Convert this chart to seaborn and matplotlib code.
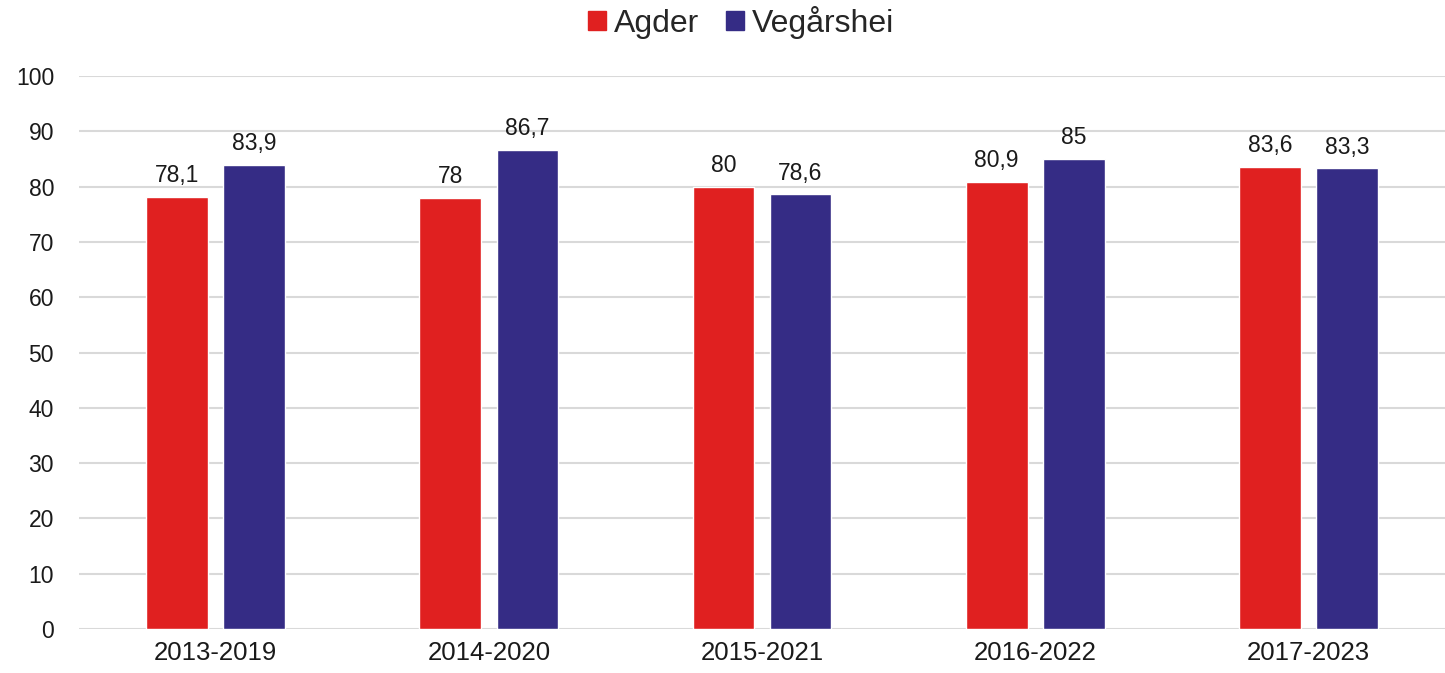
import matplotlib
matplotlib.use("Agg")
import matplotlib.pyplot as plt
import seaborn as sns
import pandas as pd

periods = ["2013-2019", "2014-2020", "2015-2021", "2016-2022", "2017-2023"]
agder = [78.1, 78.0, 80.0, 80.9, 83.6]
vegarshei = [83.9, 86.7, 78.6, 85.0, 83.3]
series = ["Agder", "Vegårshei"]

df = pd.DataFrame({
    "period": periods * 2,
    "area": [series[0]] * len(periods) + [series[1]] * len(periods),
    "value": agder + vegarshei,
})

sns.set_style("white")
plt.rcParams["font.family"] = ["Liberation Sans", "DejaVu Sans"]

fig = plt.figure(figsize=(14.45, 6.73), dpi=100)
ax = fig.add_axes([0.0547, 0.0654, 0.9453, 0.8216])

sns.barplot(data=df, x="period", y="value", hue="area", order=periods,
            hue_order=series, palette=["#E02020", "#352C85"],
            width=0.564, gap=0.2, saturation=1, ax=ax, legend=False)

def fmt(v):
    s = ("%.1f" % v).rstrip("0").rstrip(".")
    return s.replace(".", ",")

for cont in ax.containers:
    ax.bar_label(cont, labels=[fmt(b.get_height()) for b in cont],
                 padding=7, fontsize=16.5, color="#1a1a1a")

ax.set_ylim(0, 100)
ax.set_xlim(-0.5, 4.5)
ax.set_yticks(range(0, 101, 10))
ax.yaxis.grid(True, color="#d9d9d9", linewidth=1.5)
ax.set_axisbelow(True)
for s in ax.spines.values():
    s.set_visible(False)
ax.set_xlabel("")
ax.set_ylabel("")
ax.tick_params(axis="both", length=0, labelsize=16.5, colors="#1a1a1a")
ax.tick_params(axis="x", labelsize=18.5, pad=9)
ax.tick_params(axis="y", pad=18)

handles = [plt.Rectangle((0, 0), 1, 1, color=c) for c in ["#E02020", "#352C85"]]
fig.legend(handles, series, loc="center", bbox_to_anchor=(0.513, 0.967),
           ncol=2, frameon=False, fontsize=23, handlelength=0.55,
           handleheight=0.55, handletextpad=0.25, columnspacing=0.85)

fig.savefig("out.png", dpi=100)
